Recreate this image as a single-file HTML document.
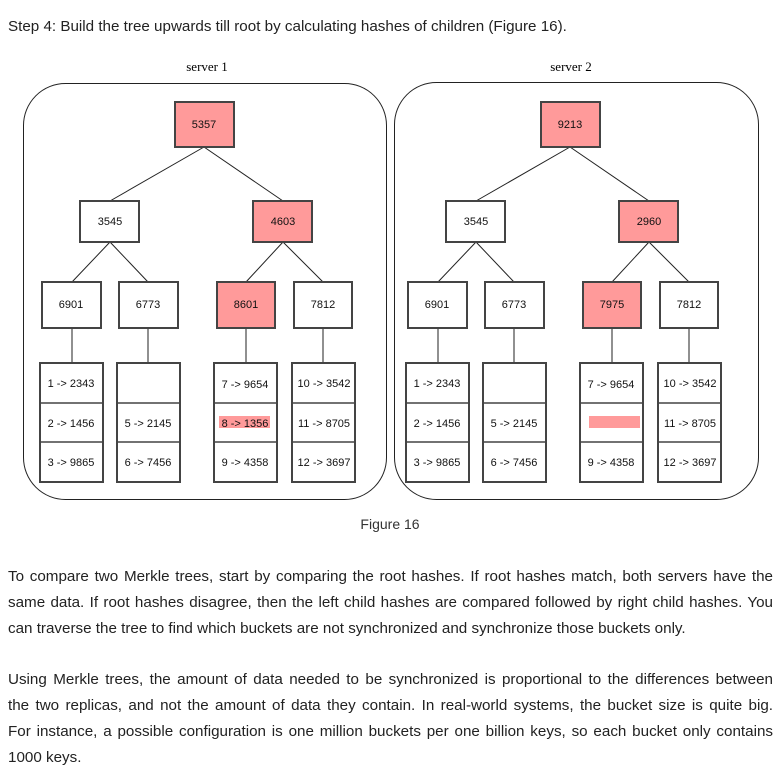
<!DOCTYPE html>
<html><head><meta charset="utf-8"><style>
body{margin:0;width:778px;height:765px;background:#fff;position:relative;overflow:hidden;font-family:"Liberation Sans",sans-serif;color:#222}
.t{position:absolute;left:8px;width:765px;font-size:15.2px;line-height:26px;text-align:justify}
.j{display:block;text-align:justify;text-align-last:justify;white-space:nowrap}
svg{position:absolute;left:0;top:0}
</style></head><body>
<div class="t" style="top:14px">Step 4: Build the tree upwards till root by calculating hashes of children (Figure 16).</div>
<svg width="778" height="540" font-family="Liberation Sans, sans-serif" font-size="11" text-anchor="middle">
<text x="207" y="71" font-family="Liberation Serif, serif" font-size="13">server 1</text>
<text x="571" y="71" font-family="Liberation Serif, serif" font-size="13">server 2</text>
<text x="390" y="529" font-size="14" fill="#333">Figure 16</text>
<g fill="none" stroke="#222" stroke-width="1">
<rect x="23.5" y="83.5" width="363" height="416" rx="42"/>
<rect x="394.5" y="82.5" width="364" height="417" rx="42"/>
</g>
<g id="s1">
<g stroke="#222" stroke-width="1">
<line x1="204" y1="147" x2="110" y2="201"/><line x1="204" y1="147" x2="283" y2="201"/>
<line x1="110" y1="242" x2="72" y2="282"/><line x1="110" y1="242" x2="148" y2="282"/>
<line x1="283" y1="242" x2="246" y2="282"/><line x1="283" y1="242" x2="323" y2="282"/>
<line x1="72" y1="328" x2="72" y2="363"/><line x1="148" y1="328" x2="148" y2="363"/>
<line x1="246" y1="328" x2="246" y2="363"/><line x1="323" y1="328" x2="323" y2="363"/>
</g>
<g stroke="#444" stroke-width="2">
<rect x="175" y="102" width="59" height="45" fill="#ff9a9a"/>
<rect x="80" y="201" width="59" height="41" fill="#fff"/>
<rect x="253" y="201" width="59" height="41" fill="#ff9a9a"/>
<rect x="42" y="282" width="59" height="46" fill="#fff"/>
<rect x="119" y="282" width="59" height="46" fill="#fff"/>
<rect x="217" y="282" width="58" height="46" fill="#ff9a9a"/>
<rect x="294" y="282" width="58" height="46" fill="#fff"/>
<g fill="#fff">
<rect x="40" y="363" width="63" height="119"/><rect x="117" y="363" width="63" height="119"/>
<rect x="214" y="363" width="63" height="119"/><rect x="292" y="363" width="63" height="119"/>
</g>
<g stroke-width="1.5">
<line x1="40" y1="403" x2="103" y2="403"/><line x1="40" y1="442" x2="103" y2="442"/>
<line x1="117" y1="403" x2="180" y2="403"/><line x1="117" y1="442" x2="180" y2="442"/>
<line x1="214" y1="403" x2="277" y2="403"/><line x1="214" y1="442" x2="277" y2="442"/>
<line x1="292" y1="403" x2="355" y2="403"/><line x1="292" y1="442" x2="355" y2="442"/>
</g>
</g>
<rect x="219" y="416" width="51" height="12" fill="#ff9a9a"/>
<g fill="#111">
<text x="204" y="128">5357</text><text x="110" y="225">3545</text><text x="283" y="225">4603</text>
<text x="71" y="308">6901</text><text x="148" y="308">6773</text><text x="246" y="308">8601</text><text x="323" y="308">7812</text>
<text x="71" y="387">1 -&gt; 2343</text><text x="71" y="427">2 -&gt; 1456</text><text x="71" y="466">3 -&gt; 9865</text>
<text x="148" y="427">5 -&gt; 2145</text><text x="148" y="466">6 -&gt; 7456</text>
<text x="245" y="388">7 -&gt; 9654</text><text x="245" y="427">8 -&gt; 1356</text><text x="245" y="466">9 -&gt; 4358</text>
<text x="324" y="387">10 -&gt; 3542</text><text x="324" y="427">11 -&gt; 8705</text><text x="324" y="466">12 -&gt; 3697</text>
</g>
</g>
<g transform="translate(366,0)">
<g stroke="#222" stroke-width="1">
<line x1="204" y1="147" x2="110" y2="201"/><line x1="204" y1="147" x2="283" y2="201"/>
<line x1="110" y1="242" x2="72" y2="282"/><line x1="110" y1="242" x2="148" y2="282"/>
<line x1="283" y1="242" x2="246" y2="282"/><line x1="283" y1="242" x2="323" y2="282"/>
<line x1="72" y1="328" x2="72" y2="363"/><line x1="148" y1="328" x2="148" y2="363"/>
<line x1="246" y1="328" x2="246" y2="363"/><line x1="323" y1="328" x2="323" y2="363"/>
</g>
<g stroke="#444" stroke-width="2">
<rect x="175" y="102" width="59" height="45" fill="#ff9a9a"/>
<rect x="80" y="201" width="59" height="41" fill="#fff"/>
<rect x="253" y="201" width="59" height="41" fill="#ff9a9a"/>
<rect x="42" y="282" width="59" height="46" fill="#fff"/>
<rect x="119" y="282" width="59" height="46" fill="#fff"/>
<rect x="217" y="282" width="58" height="46" fill="#ff9a9a"/>
<rect x="294" y="282" width="58" height="46" fill="#fff"/>
<g fill="#fff">
<rect x="40" y="363" width="63" height="119"/><rect x="117" y="363" width="63" height="119"/>
<rect x="214" y="363" width="63" height="119"/><rect x="292" y="363" width="63" height="119"/>
</g>
<g stroke-width="1.5">
<line x1="40" y1="403" x2="103" y2="403"/><line x1="40" y1="442" x2="103" y2="442"/>
<line x1="117" y1="403" x2="180" y2="403"/><line x1="117" y1="442" x2="180" y2="442"/>
<line x1="214" y1="403" x2="277" y2="403"/><line x1="214" y1="442" x2="277" y2="442"/>
<line x1="292" y1="403" x2="355" y2="403"/><line x1="292" y1="442" x2="355" y2="442"/>
</g>
</g>
<rect x="223" y="416" width="51" height="12" fill="#ff9a9a"/>
<g fill="#111">
<text x="204" y="128">9213</text><text x="110" y="225">3545</text><text x="283" y="225">2960</text>
<text x="71" y="308">6901</text><text x="148" y="308">6773</text><text x="246" y="308">7975</text><text x="323" y="308">7812</text>
<text x="71" y="387">1 -&gt; 2343</text><text x="71" y="427">2 -&gt; 1456</text><text x="71" y="466">3 -&gt; 9865</text>
<text x="148" y="427">5 -&gt; 2145</text><text x="148" y="466">6 -&gt; 7456</text>
<text x="245" y="388">7 -&gt; 9654</text><text x="245" y="466">9 -&gt; 4358</text>
<text x="324" y="387">10 -&gt; 3542</text><text x="324" y="427">11 -&gt; 8705</text><text x="324" y="466">12 -&gt; 3697</text>
</g>
</g>
</svg>
<div class="t" style="top:564px">To compare two Merkle trees, start by comparing the root hashes. If root hashes match, both servers have the same data. If root hashes disagree, then the left child hashes are compared followed by right child hashes. You can traverse the tree to find which buckets are not synchronized and synchronize those buckets only.</div>
<div class="t" style="top:667px"><span class="j">Using Merkle trees, the amount of data needed to be synchronized is proportional to the differences between</span><span class="j">the two replicas, and not the amount of data they contain. In real-world systems, the bucket size is quite big.</span><span class="j">For instance, a possible configuration is one million buckets per one billion keys, so each bucket only contains</span><span style="display:block">1000 keys.</span></div>
</body></html>
